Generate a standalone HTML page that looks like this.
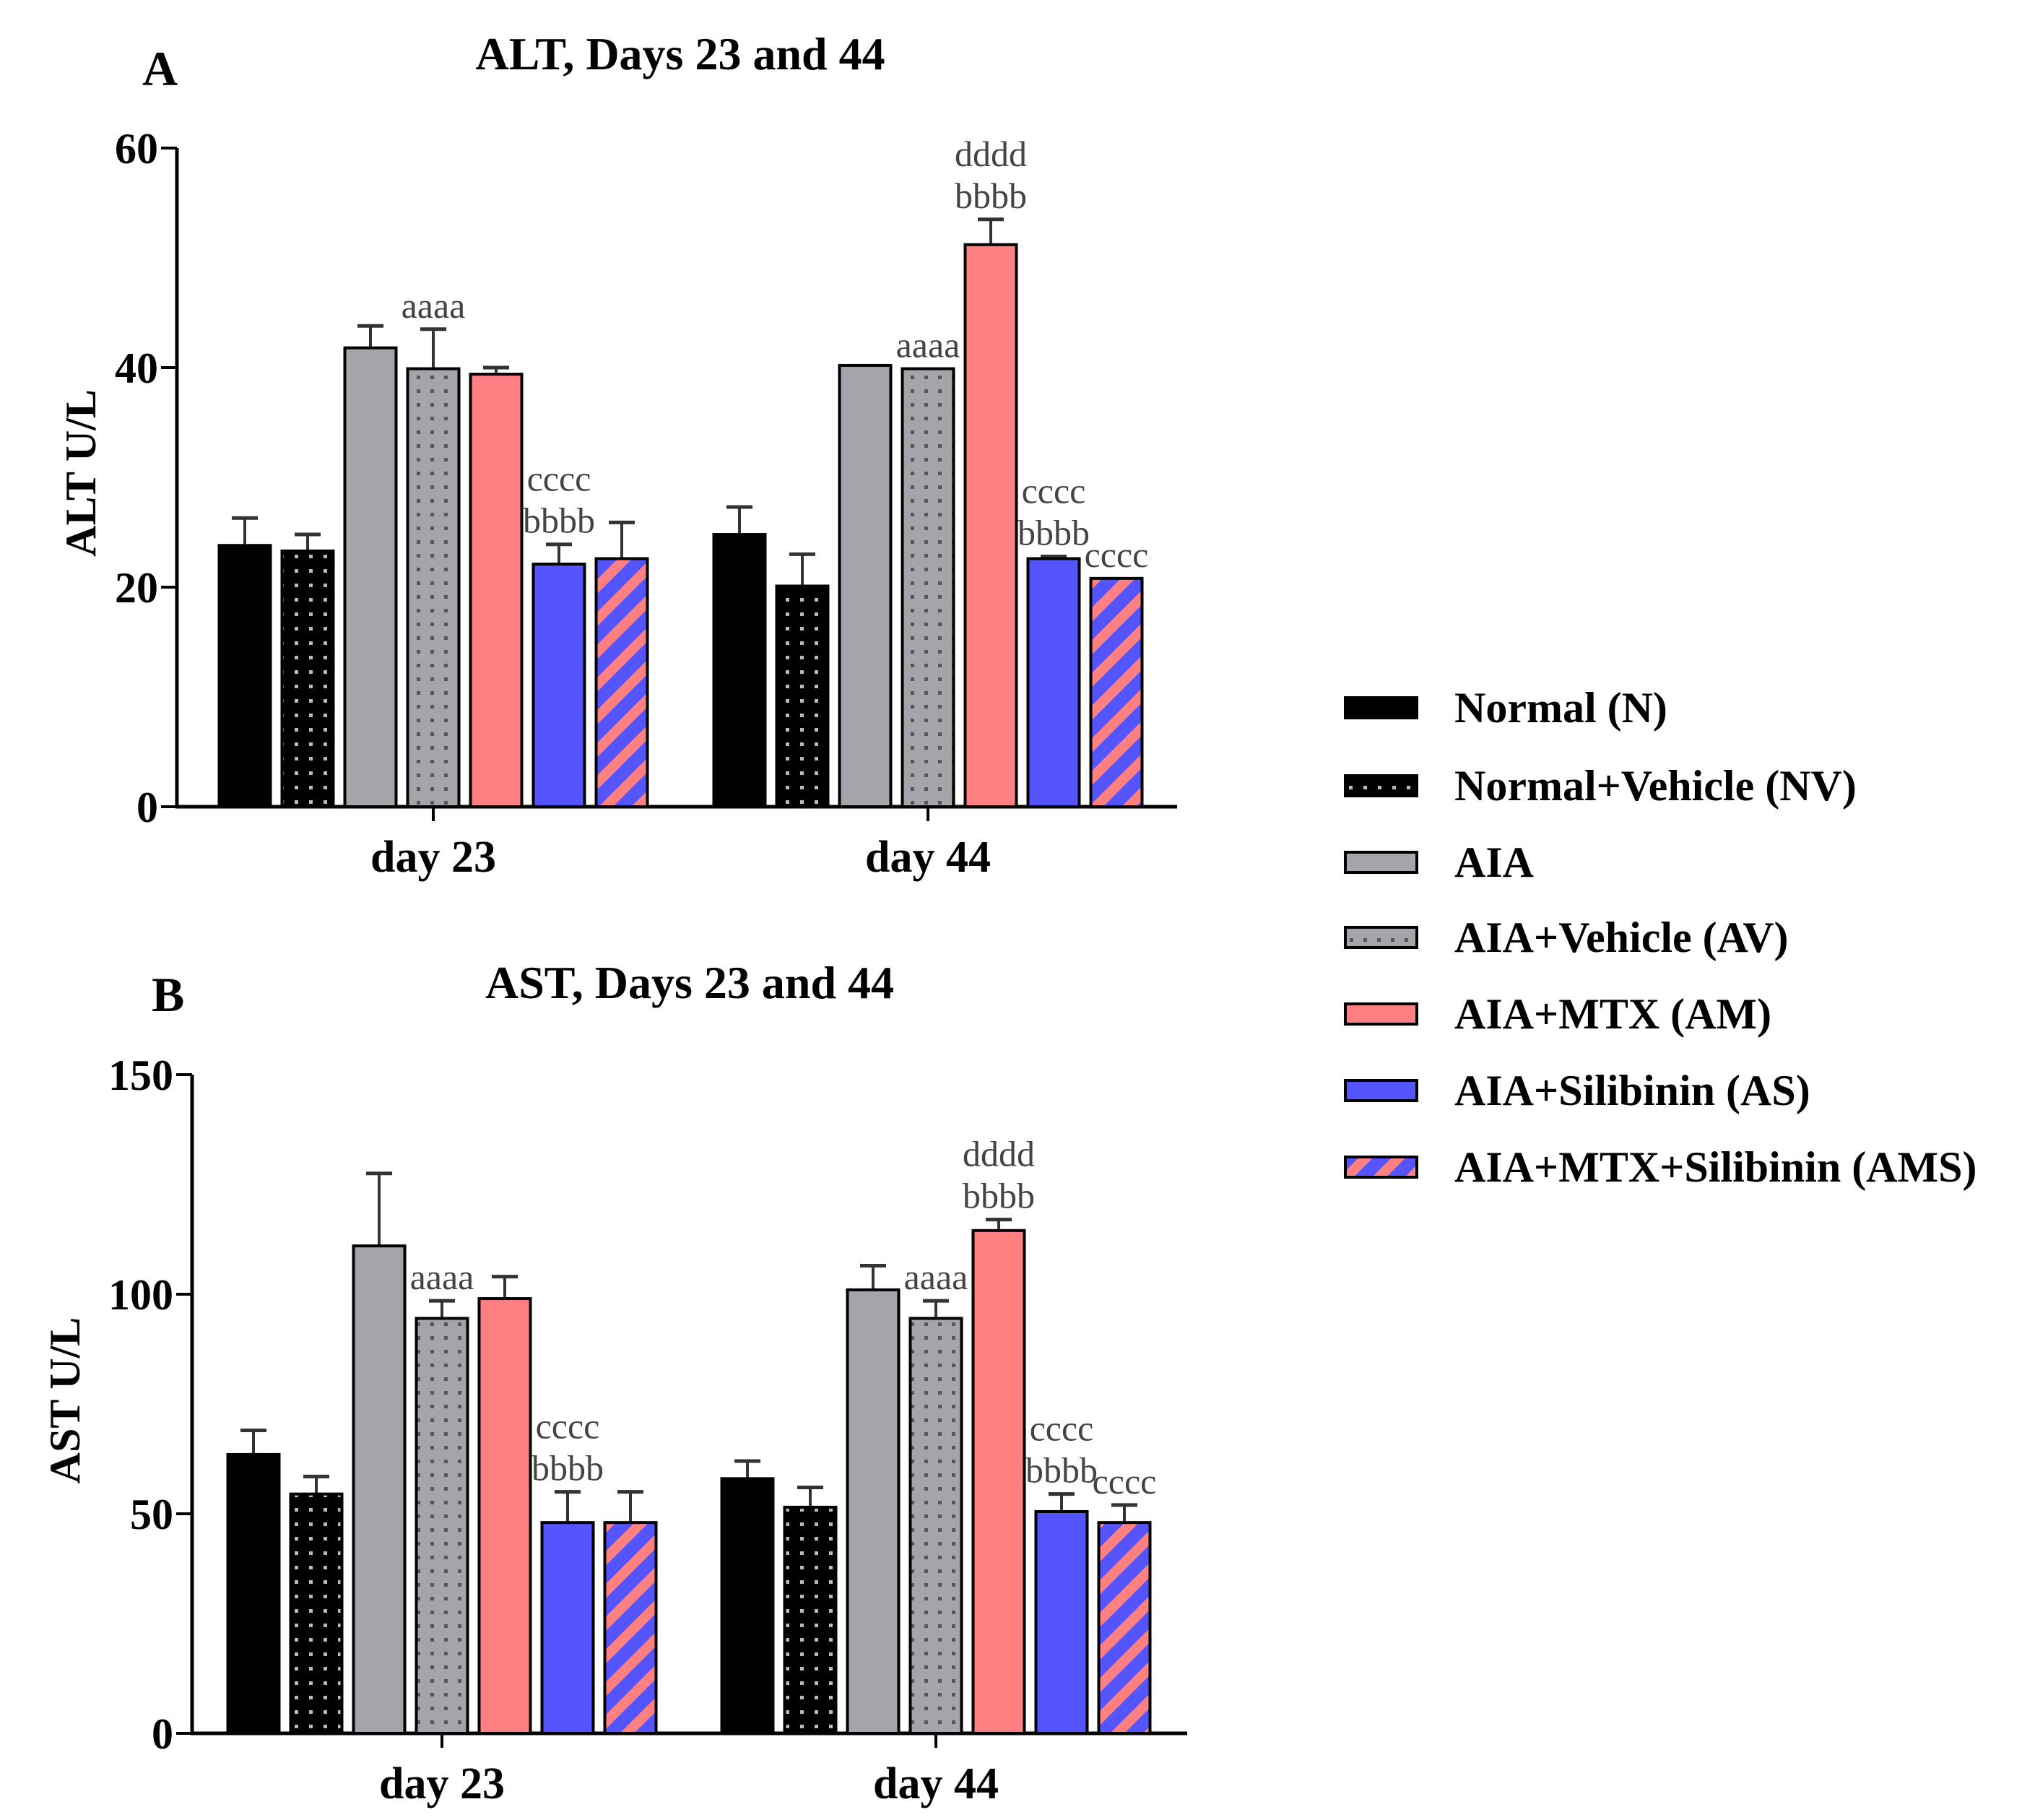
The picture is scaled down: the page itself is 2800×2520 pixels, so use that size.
<!DOCTYPE html>
<html><head><meta charset="utf-8"><style>
html,body{margin:0;padding:0;background:#fff}
svg{display:block}
text{font-family:"Liberation Serif",serif}
</style></head><body>
<svg id="fig" width="2800" height="2520" viewBox="0 0 2800 2520" xmlns="http://www.w3.org/2000/svg">
<defs>
<pattern id="pNV" width="20" height="20" patternUnits="userSpaceOnUse"><rect width="20" height="20" fill="#000"/><rect x="8" y="8" width="5" height="5" fill="#bbb"/></pattern>
<pattern id="pAV" width="19" height="19" patternUnits="userSpaceOnUse"><rect width="19" height="19" fill="#a4a4aa"/><rect x="7" y="7" width="5" height="5" fill="#55555a"/></pattern>
<pattern id="pAMS" width="32" height="32" patternUnits="userSpaceOnUse" patternTransform="rotate(45)"><rect width="32" height="32" fill="#5555ff"/><rect width="14" height="32" fill="#ff8080"/></pattern>
</defs>
<g id="chartA"></g>
<g id="chartB"></g>
<g id="legend"></g>
</svg>
<script>
const groups = ["Normal (N)","Normal+Vehicle (NV)","AIA","AIA+Vehicle (AV)","AIA+MTX (AM)","AIA+Silibinin (AS)","AIA+MTX+Silibinin (AMS)"];
const categories = ["day 23","day 44"];
const altDay23 = [23.8,23.3,41.8,39.9,39.4,22.1,22.6];
const altDay23Err = [26.3,24.8,43.8,43.5,40.0,23.9,25.9];
const altDay44 = [24.8,20.1,40.2,39.9,51.2,22.6,20.8];
const altDay44Err = [27.3,23.0,40.2,39.9,53.5,22.8,20.8];
const astDay23 = [63.5,54.5,111,94.5,99,48,48];
const astDay23Err = [69,58.5,127.5,98.5,104,55,55];
const astDay44 = [58,51.5,101,94.5,114.5,50.5,48];
const astDay44Err = [62,56,106.5,98.5,117,54.5,52];
const altTicks = [0,20,40,60];
const astTicks = [0,50,100,150];
const altAnnDay23 = [[],[],[],["aaaa"],[],["cccc","bbbb"],[]];
const altAnnDay44 = [[],[],[],["aaaa"],["dddd","bbbb"],["cccc","bbbb"],["cccc"]];
const astAnnDay23 = [[],[],[],["aaaa"],[],["cccc","bbbb"],[]];
const astAnnDay44 = [[],[],[],["aaaa"],["dddd","bbbb"],["cccc","bbbb"],["cccc"]];

const fills = ["#000","url(#pNV)","#a4a4aa","url(#pAV)","#ff8080","#5555ff","url(#pAMS)"];
const NS="http://www.w3.org/2000/svg";
function mk(parent,tag,attrs,txt){const e=document.createElementNS(NS,tag);for(const k in attrs)e.setAttribute(k,attrs[k]);if(txt!==undefined)e.textContent=txt;parent.appendChild(e);return e;}

function drawChart(g,cfg){
  const yS=v=>cfg.y0-(v/cfg.max)*(cfg.y0-cfg.yTop);
  const cx=i=>cfg.c0+i*cfg.gap;
  const pitch=87, bw=71;
  let t=mk(g,'text',{x:cfg.letterX,y:cfg.letterY,'font-size':68,'font-weight':'bold'},cfg.letter);
  
  
  t=mk(g,'text',{x:cfg.titleX,y:cfg.titleY,'font-size':64,'font-weight':'bold','text-anchor':'middle'},cfg.title);
  
  
  let a=mk(g,'line',{x1:cfg.ax,y1:cfg.yTop,x2:cfg.ax,y2:cfg.y0+2,stroke:'#000','stroke-width':5});
  
  
  cfg.ticks.forEach(v=>{
    const y=yS(v);
    const l=mk(g,'line',{x1:cfg.ax-22,y1:y,x2:cfg.ax,y2:y,stroke:'#000','stroke-width':4});
    
    
    const tl=mk(g,'text',{x:cfg.ax-26,y:y+21,'font-size':60,'font-weight':'bold','text-anchor':'end'},String(v));
    
    
  });
  t=mk(g,'text',{x:0,y:0,'font-size':60,'font-weight':'bold','text-anchor':'middle',transform:`translate(${cfg.ytX},${cfg.ytY}) rotate(-90)`},cfg.yTitle);
  
  
  a=mk(g,'line',{x1:cfg.ax-2,y1:cfg.y0,x2:cfg.axEnd,y2:cfg.y0,stroke:'#000','stroke-width':5});
  
  
  categories.forEach((c,ci)=>{
    const x=cx(ci);
    const l=mk(g,'line',{x1:x,y1:cfg.y0,x2:x,y2:cfg.y0+20,stroke:'#000','stroke-width':4});
    
    
    const tl=mk(g,'text',{x:x,y:cfg.y0+90,'font-size':62,'font-weight':'bold','text-anchor':'middle'},c);
    
    
    const vals=cfg.vals[ci], errs=cfg.errs[ci], anns=cfg.anns[ci];
    vals.forEach((v,i)=>{
      const left=x+(i-3)*pitch-bw/2;
      const top=yS(v), et=yS(errs[i]), mid=left+bw/2;
      if(et<top-1){
        const e=mk(g,'line',{x1:mid,y1:et,x2:mid,y2:top,stroke:'#333','stroke-width':4});
        
        
        const cap=mk(g,'line',{x1:mid-18,y1:et,x2:mid+18,y2:et,stroke:'#333','stroke-width':5});
        
        
      }
      const r=mk(g,'rect',{x:left,y:top,width:bw,height:cfg.y0-top,fill:fills[i],stroke:'#000','stroke-width':4});
      
      
      const n=anns[i].length;
      anns[i].forEach((s,k)=>{
        const yy=et-30-(n-1-k)*58+14;
        const at=mk(g,'text',{x:mid,y:yy,'font-size':50,fill:'#444','text-anchor':'middle'},s);
        
        
      });
    });
  });
}
drawChart(document.getElementById('chartA'),{letter:'A',letterX:197,letterY:118,title:'ALT, Days 23 and 44',titleX:942,titleY:96,
  ax:245,axEnd:1630,y0:1117,yTop:205,max:60,ticks:altTicks,c0:600,gap:685,yTitle:'ALT U/L',ytX:132,ytY:655,
  vals:[altDay23,altDay44],errs:[altDay23Err,altDay44Err],anns:[altAnnDay23,altAnnDay44]});
drawChart(document.getElementById('chartB'),{letter:'B',letterX:210,letterY:1400,title:'AST, Days 23 and 44',titleX:955,titleY:1382,
  ax:266,axEnd:1644,y0:2400,yTop:1488,max:150,ticks:astTicks,c0:612,gap:684,yTitle:'AST U/L',ytX:110,ytY:1939,
  vals:[astDay23,astDay44],errs:[astDay23Err,astDay44Err],anns:[astAnnDay23,astAnnDay44]});
const lg=document.getElementById('legend');
const legendY=[980,1088,1194,1298,1404,1510,1616];
groups.forEach((gname,i)=>{
  const y=legendY[i];
  const sw=mk(lg,'rect',{x:1863,y:y-14,width:99,height:28,fill:fills[i],stroke:'#000','stroke-width':4});
  
  
  const tx=mk(lg,'text',{x:2014,y:y+20,'font-size':60,'font-weight':'bold'},gname);
  
  
});
</script>
</body></html>
